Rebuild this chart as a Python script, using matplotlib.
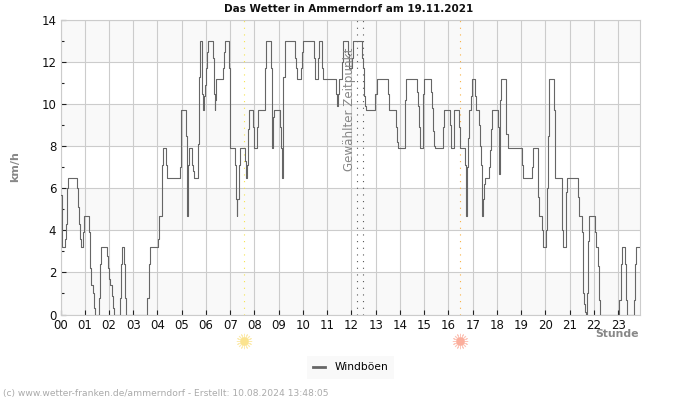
import matplotlib
matplotlib.use('Agg')
import matplotlib.pyplot as plt
import numpy as np

# hours are read against the plot width, the axis ends at 23:55
hours = [0.03, 0.08, 0.20, 0.23, 0.26, 0.28, 0.32, 0.70, 0.71, 0.78, 0.81, 0.83, 0.94, 0.99, 1.19, 1.22, 1.25, 1.36, 1.40, 1.43,
         1.58, 1.62, 1.66, 1.94, 1.98, 2.01, 2.05, 2.14, 2.19, 2.21, 2.45, 2.49, 2.53, 2.63, 2.67, 2.71, 3.59, 3.65, 3.69, 4.04,
         4.07, 4.10, 4.20, 4.21, 4.26, 4.37, 4.39, 4.43, 4.94, 4.97, 5.01, 5.19, 5.22, 5.25, 5.28, 5.30, 5.33, 5.44, 5.47, 5.51,
         5.69, 5.72, 5.76, 5.85, 5.88, 5.91, 5.94, 5.99, 6.03, 6.08, 6.12, 6.32, 6.35, 6.38, 6.41, 6.43, 6.46, 6.72, 6.76, 6.80,
         6.97, 7.00, 7.04, 7.22, 7.26, 7.29, 7.32, 7.40, 7.44, 7.65, 7.69, 7.73, 7.76, 7.80, 7.98, 8.03, 8.14, 8.20, 8.45, 8.47,
         8.52, 8.70, 8.74, 8.76, 8.81, 8.85, 9.11, 9.14, 9.18, 9.21, 9.23, 9.28, 9.72, 9.76, 9.79, 9.95, 10.00, 10.05, 10.50, 10.54,
         10.65, 10.71, 10.81, 10.85, 10.89, 11.40, 11.45, 11.48, 11.52, 11.67, 11.72, 11.90, 11.95, 12.09, 12.13, 12.47, 12.52, 12.56, 12.60, 12.64,
         13.04, 13.11, 13.56, 13.61, 13.90, 13.92, 13.97, 14.25, 14.28, 14.32, 14.75, 14.79, 14.83, 14.90, 15.00, 15.03, 15.07, 15.33, 15.37, 15.41,
         15.45, 15.50, 15.84, 15.88, 16.14, 16.19, 16.28, 16.50, 16.53, 16.75, 16.78, 16.81, 16.83, 16.86, 16.90, 17.01, 17.05, 17.18, 17.22, 17.33,
         17.37, 17.40, 17.44, 17.47, 17.50, 17.52, 17.56, 17.73, 17.77, 17.83, 17.87, 18.12, 18.14, 18.16, 18.19, 18.21, 18.25, 18.43, 18.47, 18.52,
         19.10, 19.15, 19.51, 19.56, 19.76, 19.79, 19.83, 19.94, 19.98, 20.10, 20.16, 20.19, 20.24, 20.43, 20.46, 20.50, 20.76, 20.79, 20.83, 20.94,
         20.98, 21.43, 21.47, 21.58, 21.62, 21.66, 21.70, 21.74, 21.77, 21.80, 21.84, 21.90, 22.12, 22.16, 22.28, 22.32, 22.35, 23.15, 23.21, 23.25,
         23.37, 23.41, 23.45, 23.74, 23.79, 23.83, 24.00]
boeen = [5.7, 3.2, 3.6, 4.3, 5.1, 6.0, 6.5, 6.0, 5.1, 4.3, 3.6, 3.2, 3.9, 4.7, 3.9, 2.2, 1.4, 1.0, 0.3, 0.0,
         0.8, 2.4, 3.2, 2.8, 2.2, 1.7, 1.4, 0.9, 0.3, 0.0, 0.8, 2.4, 3.2, 2.4, 0.8, 0.0, 0.8, 2.4, 3.2, 3.6,
         4.3, 4.7, 5.5, 7.1, 7.9, 7.1, 6.8, 6.5, 7.0, 8.8, 9.7, 8.5, 6.0, 4.7, 5.5, 7.1, 7.9, 7.1, 6.8, 6.5,
         8.1, 11.3, 13.0, 12.2, 10.5, 9.7, 10.4, 10.9, 11.7, 12.5, 13.0, 12.2, 10.5, 9.7, 10.2, 10.8, 11.2, 11.7, 12.5, 13.0,
         11.7, 9.2, 7.9, 7.1, 5.5, 4.7, 5.5, 7.1, 7.9, 7.3, 6.5, 7.1, 8.8, 9.7, 8.9, 7.9, 8.9, 9.7, 10.4, 11.7,
         13.0, 11.7, 9.4, 7.9, 9.4, 9.7, 8.9, 7.9, 6.5, 9.0, 11.3, 13.0, 12.2, 11.7, 11.2, 11.7, 12.5, 13.0, 12.2, 11.2,
         12.2, 13.0, 12.2, 11.7, 11.2, 10.5, 9.9, 10.5, 11.2, 12.0, 13.0, 12.4, 11.7, 12.2, 13.0, 12.2, 11.7, 10.4, 9.9, 9.7,
         10.5, 11.2, 10.5, 9.7, 8.9, 8.2, 7.9, 8.5, 10.2, 11.2, 10.6, 9.9, 8.9, 7.9, 8.5, 10.5, 11.2, 10.6, 9.8, 8.7,
         8.0, 7.9, 8.9, 9.7, 9.0, 7.9, 9.7, 8.9, 7.9, 7.1, 5.6, 4.7, 7.0, 8.4, 9.7, 10.4, 11.2, 10.4, 9.7, 9.0,
         8.0, 7.1, 5.6, 4.7, 5.5, 6.2, 6.5, 7.0, 7.8, 8.8, 9.7, 8.9, 7.4, 6.7, 8.0, 10.2, 11.2, 10.3, 8.6, 7.9,
         7.1, 6.5, 7.0, 7.9, 7.0, 5.6, 4.7, 4.0, 3.2, 4.0, 6.0, 8.5, 11.2, 9.7, 8.0, 6.5, 5.8, 4.0, 3.2, 5.8,
         6.5, 5.6, 4.7, 3.9, 2.2, 1.0, 0.5, 0.1, 0.0, 1.0, 3.5, 4.7, 3.9, 3.2, 2.3, 0.7, 0.0, 0.7, 2.4, 3.2,
         2.4, 0.7, 0.0, 0.7, 2.4, 3.2, 3.2]
stunden = ['%02d' % h for h in range(24)]
sonnenaufgang = 7.55
sonnenuntergang = 16.47
zeitpunkt = [12.22, 12.48]

x_end = 23.9
x = np.array(hours) * x_end / 24

fig = plt.figure(figsize=(7, 4), dpi=100)
ax = fig.add_axes([60.5 / 700, 1 - 314.5 / 400, 579.5 / 700, 294.5 / 400])

for y0 in range(0, 14, 4):
    ax.axhspan(y0, y0 + 2, color='#f9f9f9', lw=0, zorder=0)
ax.grid(True, color='#cccccc', lw=0.8, zorder=1)
ax.set_axisbelow(True)

ax.plot(x, boeen, drawstyle='steps-post', color='#666666', lw=0.8, zorder=3, label='Windböen')

dots = (0, (1, 5))
ax.axvline(sonnenaufgang, color='#f7e24a', lw=0.8, ls=dots, zorder=2)
ax.axvline(sonnenuntergang, color='#f9b040', lw=0.8, ls=dots, zorder=2)
for z in zeitpunkt:
    ax.axvline(z, color='#555555', lw=0.8, ls=dots, zorder=2)
ax.text(11.93, 9.77, 'Gewählter Zeitpunkt', rotation=90, color='#888888', fontsize=8.6,
        ha='center', va='center', zorder=4)

# sun symbols below the axis
trans = ax.get_xaxis_transform()
for sx, col in [(sonnenaufgang, '#fbe38e'), (sonnenuntergang, '#fbae9c')]:
    ax.plot([sx], [-0.09], marker='o', ms=5, mfc=col, mec=col, transform=trans, clip_on=False, zorder=5)
    ax.plot([sx], [-0.09], marker=(16, 2, 0), ms=11, mew=0.6, mec=col, alpha=0.7, transform=trans,
            clip_on=False, zorder=5)

ax.set_xlim(0, x_end)
ax.set_ylim(0, 14)
ax.set_xticks(range(24))
ax.set_xticklabels(stunden)
ax.set_yticks(range(0, 15, 2))
ax.set_yticks(range(1, 14, 2), minor=True)
ax.tick_params(axis='both', which='major', direction='in', length=3.6, width=0.8, color='#222222',
               labelsize=8.5, labelcolor='#111111', pad=3)
ax.tick_params(axis='y', which='minor', direction='in', length=2.2, width=0.8, color='#222222')
for s in ax.spines.values():
    s.set_color('#cccccc')
    s.set_linewidth(0.8)

fig.text(349 / 700, 1 - 8.5 / 400, 'Das Wetter in Ammerndorf am 19.11.2021', ha='center', va='center',
         fontsize=7.5, fontweight='bold', color='#111111')
fig.text(15.5 / 700, 1 - 167 / 400, 'km/h', rotation=90, ha='center', va='center', fontsize=8,
         fontweight='bold', color='#888888')
fig.text(639 / 700, 1 - 334 / 400, 'Stunde', ha='right', va='center', fontsize=7.8, fontweight='bold', color='#888888')
fig.text(3 / 700, 1 - 393.5 / 400, '(c) www.wetter-franken.de/ammerndorf - Erstellt: 10.08.2024 13:48:05',
         ha='left', va='center', fontsize=6.6, color='#aaaaaa')

leg = ax.legend(loc='center', bbox_to_anchor=(350.5 / 700, 1 - 367.5 / 400), bbox_transform=fig.transFigure,
                frameon=True, fontsize=7.7, handlelength=1.1, borderpad=0.6, handletextpad=0.9, fancybox=False)
leg.get_frame().set_facecolor('#f9f9f9')
leg.get_frame().set_edgecolor('none')
leg.get_frame().set_alpha(1)
leg.get_lines()[0].set_linewidth(2)

fig.savefig('out.png', dpi=100)
